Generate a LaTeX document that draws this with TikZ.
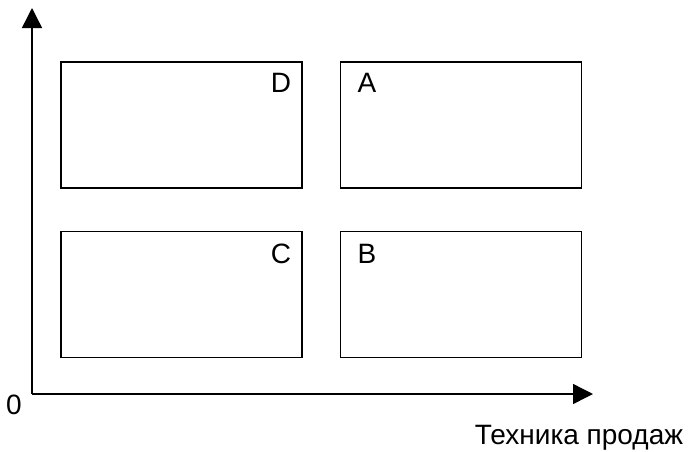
\documentclass[tikz,border=0pt]{standalone}
\usepackage{fontspec}
\setmainfont{Liberation Sans}
\usetikzlibrary{arrows.meta}
\tikzset{
  quad/.style={draw, line width=1.3pt, rectangle, minimum width=241pt, minimum height=126pt, inner sep=0pt},
  letter/.style={font=\fontsize{28pt}{32pt}\selectfont, inner sep=0pt},
  axis/.style={line width=1.4pt, -{Triangle[length=20pt,width=20pt]}}
}
\begin{document}
\begin{tikzpicture}[x=1pt, y=-1pt]
\useasboundingbox (0,0) rectangle (688,451);
\node[quad] (d) at (181.5,125) {};
\node[quad] (a) at (461,125) {};
\node[quad] (c) at (181.5,294.5) {};
\node[quad] (b) at (461,294.5) {};
\node[letter] (dl) at (281,83) {D};
\node[letter] (al) at (367,83) {A};
\node[letter] (cl) at (281,254) {C};
\node[letter] (bl) at (367,254) {B};
\coordinate (o) at (32,394);
\coordinate (ytip) at (32,8);
\coordinate (xtip) at (593,394);
\draw[axis] (o) -- (ytip);
\draw[axis] (o) -- (xtip);
\node[letter] (zero) at (14,405) {0};
\node[letter] (xlabel) at (579,438) {Техника продаж};
\end{tikzpicture}
\end{document}
